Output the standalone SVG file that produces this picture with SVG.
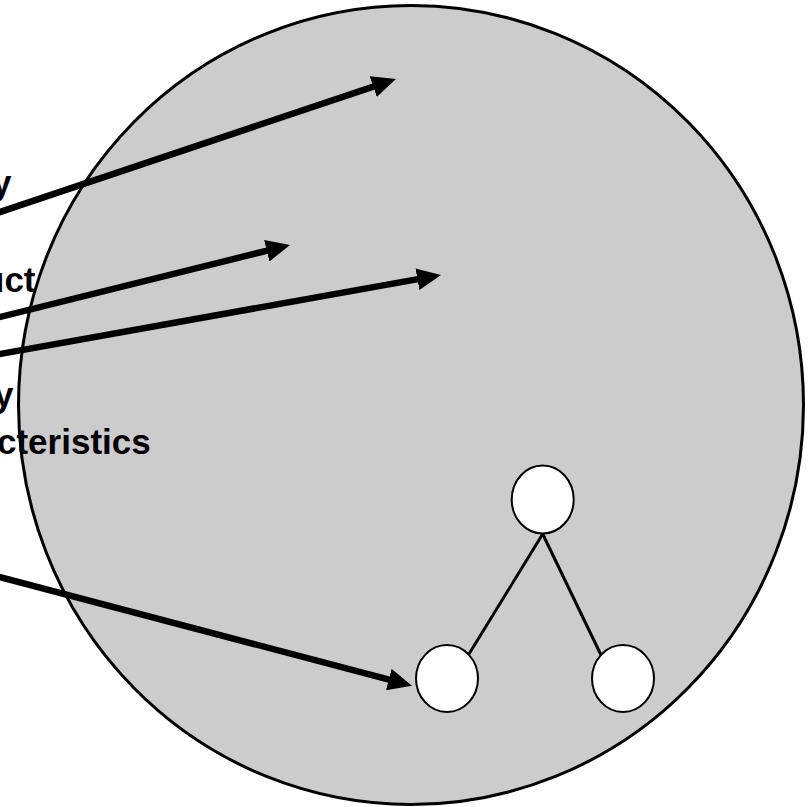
<svg xmlns="http://www.w3.org/2000/svg" width="808" height="807" viewBox="0 0 808 807">
  <style>
    .bg { fill: #ffffff; }
    .big { fill: #cccccc; stroke: #000000; stroke-width: 3; }
    .node { fill: #ffffff; stroke: #000000; stroke-width: 2; }
    .edge { stroke: #000000; stroke-width: 3; fill: none; }
    .arrow { stroke: #000000; stroke-width: 6.5; fill: none; marker-end: url(#head); }
    .label { font-family: "Liberation Sans", Arial, sans-serif; font-weight: bold; font-size: 35px; fill: #000000; }
  </style>
  <defs>
    <marker id="head" markerUnits="userSpaceOnUse" viewBox="0 0 24 22" markerWidth="24" markerHeight="22" refX="12" refY="11" orient="auto">
      <path d="M0,0 L24,11 L0,22 z" fill="#000000"/>
    </marker>
  </defs>
  <rect class="bg" x="0" y="0" width="808" height="807"/>
  <g id="domain">
    <ellipse class="big" cx="411" cy="405" rx="392.5" ry="399.5"/>
  </g>
  <g id="labels">
    <text class="label" x="-8" y="195">y</text>
    <text class="label" x="-17" y="292">uct</text>
    <text class="label" x="-6" y="407">y</text>
    <text class="label" x="-3" y="454">cteristics</text>
  </g>
  <g id="connectors">
    <line class="edge" x1="542.7" y1="534" x2="469" y2="654"/>
    <line class="edge" x1="542.7" y1="534" x2="601" y2="655"/>
    <line class="arrow" x1="-2" y1="212.7" x2="384.6" y2="82.8"/>
    <line class="arrow" x1="-2" y1="317.5" x2="278.4" y2="247.9"/>
    <line class="arrow" x1="-2" y1="354.4" x2="429.2" y2="277.1"/>
    <line class="arrow" x1="-2" y1="576.5" x2="400.4" y2="682.6"/>
  </g>
  <g id="node-top">
    <ellipse class="node" cx="542.7" cy="499.5" rx="31" ry="34"/>
  </g>
  <g id="node-left">
    <ellipse class="node" cx="447" cy="678.5" rx="31" ry="33.5"/>
  </g>
  <g id="node-right">
    <ellipse class="node" cx="623" cy="678.5" rx="31" ry="33.5"/>
  </g>
</svg>
